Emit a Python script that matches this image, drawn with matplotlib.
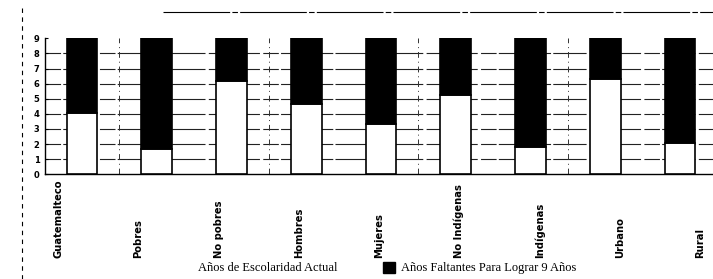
import matplotlib
matplotlib.use("Agg")
import matplotlib.pyplot as plt
from matplotlib.patches import Patch
from matplotlib.lines import Line2D

categories = ["Guatemalteco", "Pobres", "No pobres", "Hombres", "Mujeres",
              "No Indígenas", "Indígenas", "Urbano", "Rural"]
actual = [4.05, 1.7, 6.2, 4.65, 3.35, 5.25, 1.8, 6.3, 2.05]
target = 9
faltantes = [target - v for v in actual]
yticks = list(range(0, 10))
series_names = ["Años de Escolaridad Actual", "Años Faltantes Para Lograr 9 Años"]

W, H = 713, 279
fig = plt.figure(figsize=(W / 100, H / 100), dpi=100)

def fx(px):
    return px / W

def fy(py):
    return 1 - py / H

# main axes: x from 45 to 713 px, y0 at 174.3, y9 at 38.3
ax = fig.add_axes([fx(45), fy(174.3), fx(713) - fx(45), fy(38.3) - fy(174.3)])
x = list(range(len(categories)))
ax.set_xlim((45 - 82) / 74.75, (713 - 82) / 74.75)
ax.set_ylim(0, 9)

for yv in range(1, 9):
    ax.axhline(yv, color="#222222", lw=0.8, ls=(0, (14, 2, 30, 3)), zorder=1)
for xv in [0.5, 2.5, 4.5, 6.5]:
    ax.axvline(xv, color="#333333", lw=0.7, ls=(0, (6, 4, 1, 4)), zorder=1)

bw = 0.41
ax.bar(x, actual, width=bw, color="white", edgecolor="black", lw=1.2, zorder=3)
ax.bar(x, faltantes, width=bw, bottom=actual, color="black", edgecolor="black",
       lw=1.2, zorder=3)

for s in ["top", "right"]:
    ax.spines[s].set_visible(False)
ax.spines["left"].set_linewidth(1.0)
ax.spines["bottom"].set_linewidth(1.0)
ax.set_yticks(yticks)
ax.set_yticklabels([str(t) for t in yticks], fontsize=6, fontweight="bold",
                   family="DejaVu Sans")
ax.tick_params(axis="y", length=2, width=0.8, pad=4, direction="in")
ax.set_xticks([])

# category labels: bottom-anchored at y=258 px, positions at 58 + 80.25*i px
lab = fig.add_axes([fx(45), fy(258), fx(713) - fx(45), 0.0001])
lab.set_xlim((45 - 58) / 80.25, (713 - 58) / 80.25)
lab.set_ylim(0, 1)
lab.set_yticks([])
for s in lab.spines.values():
    s.set_visible(False)
lab.patch.set_visible(False)
lab.xaxis.tick_top()
lab.set_xticks(x)
lab.set_xticklabels(categories, rotation=90, fontsize=7.2, fontweight="bold",
                    family="DejaVu Sans")
lab.tick_params(axis="x", length=0, pad=0)

# scan frame lines
fig.add_artist(Line2D([fx(22), fx(22)], [fy(8), fy(279)], color="black", lw=0.8,
                      ls=(0, (4, 4))))
fig.add_artist(Line2D([fx(163), fx(713)], [fy(12), fy(12)], color="black", lw=0.8,
                      ls=(0, (60, 2, 5, 2))))

handles = [Patch(facecolor="white", edgecolor="none"),
           Patch(facecolor="black", edgecolor="black")]
fig.legend(handles, series_names, loc="center", bbox_to_anchor=(fx(378), fy(268)),
           ncol=2, frameon=False, handlelength=1.0, handleheight=1.0,
           handletextpad=0.5, columnspacing=3.6, borderaxespad=0, borderpad=0,
           prop={"family": "Liberation Serif", "size": 9})

fig.savefig("out.png", dpi=100)
